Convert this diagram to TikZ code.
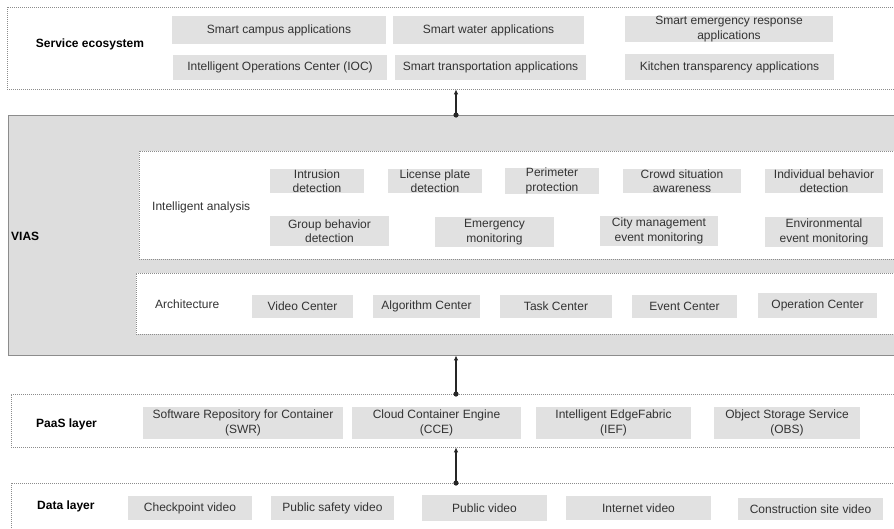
\documentclass[tikz,border=0pt]{standalone}
\usepackage{fontspec}
\setmainfont{Liberation Sans}
\usetikzlibrary{arrows.meta}
\definecolor{boxgray}{HTML}{E1E1E1}
\definecolor{viasgray}{HTML}{DDDDDD}
\definecolor{txt}{HTML}{333333}
\definecolor{edge}{HTML}{8C8C8C}
\tikzset{
  gb/.style={fill=boxgray, draw=none, inner sep=0pt, align=center, text=txt,
    font=\fontsize{12}{14.5}\selectfont},
  layer/.style={draw=edge, line width=0.6pt, dash pattern=on 1pt off 1pt, fill=white, inner sep=0pt},
  lbl/.style={text=txt, inner sep=0pt, font=\fontsize{12}{14.5}\selectfont},
  blbl/.style={text=black, inner sep=0pt, font=\bfseries\fontsize{12}{14.5}\selectfont},
  conn/.style={draw=black!85, line width=1.3pt, -{Latex[length=5pt,width=4.5pt]}},
  dotmark/.style={fill=black!85}
}
\newcommand{\gbox}[6]{% name, x1, y1, x2, y2, text
  \node[gb, minimum width={#4-#2}, minimum height={#5-#3}] (#1) at ({(#2+#4)/2},{(#3+#5)/2}) {#6};}
\begin{document}
\begin{tikzpicture}[x=1pt,y=-1pt]
\clip (0,0) rectangle (894,528);
\fill[white] (0,0) rectangle (894,528);

% ---------- Service ecosystem ----------
\node[layer, minimum width=893, minimum height=82] (svc) at (453.5,48) {};
\node[blbl] (svclbl) at (90,44) {Service ecosystem};
\gbox{campus}{172}{16}{386}{44}{Smart campus applications}
\gbox{ioc}{173}{55}{387}{80}{Intelligent Operations Center (IOC)}
\gbox{water}{393}{16}{584}{44}{Smart water applications}
\gbox{transp}{395}{55}{586}{80}{Smart transportation applications}
\gbox{emerg}{625}{16}{833}{42}{Smart emergency response\\applications}
\gbox{kitchen}{625}{54}{834}{80}{Kitchen transparency applications}

% ---------- VIAS ----------
\node[draw=edge, line width=0.8pt, fill=viasgray, inner sep=0pt, minimum width=893, minimum height=240] (vias) at (454.5,235) {};
\node[blbl, anchor=west] (viaslbl) at (11,236) {VIAS};

\node[layer, minimum width=762, minimum height=108] (ia) at (520,205) {};
\node[lbl, anchor=west] (ialbl) at (152,207) {Intelligent analysis};
\gbox{intr}{270}{169}{364}{193}{Intrusion\\detection}
\gbox{lic}{388}{169}{482}{193}{License plate\\detection}
\gbox{peri}{505}{169}{599}{193}{Perimeter\\protection}
\gbox{crowd}{623}{169}{741}{193}{Crowd situation\\awareness}
\gbox{indiv}{765}{169}{883}{193}{Individual behavior\\detection}
\gbox{group}{270}{216}{389}{246}{Group behavior\\detection}
\gbox{emon}{435}{217}{554}{247}{Emergency\\monitoring}
\gbox{city}{600}{216}{718}{246}{City management\\event monitoring}
\gbox{env}{765}{217}{883}{247}{Environmental\\event monitoring}

\node[layer, minimum width=765, minimum height=61] (arch) at (518.5,303.5) {};
\node[lbl, anchor=west] (archlbl) at (155,304) {Architecture};
\gbox{vc}{252}{295}{353}{318}{Video Center}
\gbox{ac}{373}{295}{480}{318}{Algorithm Center}
\gbox{tc}{500}{295}{612}{318}{Task Center}
\gbox{ec}{632}{295}{737}{318}{Event Center}
\gbox{oc}{758}{293}{877}{318}{Operation Center}

% ---------- PaaS layer ----------
\node[layer, minimum width=889, minimum height=53] (paas) at (455.5,420.5) {};
\node[blbl, anchor=west] (paaslbl) at (36,424) {PaaS layer};
\gbox{swr}{143}{407}{343}{439}{Software Repository for Container\\(SWR)}
\gbox{cce}{352}{407}{521}{439}{Cloud Container Engine\\(CCE)}
\gbox{ief}{536}{407}{691}{439}{Intelligent EdgeFabric\\(IEF)}
\gbox{obs}{714}{407}{860}{439}{Object Storage Service\\(OBS)}

% ---------- Data layer ----------
\node[layer, minimum width=889, minimum height=60] (data) at (455.5,513) {};
\node[blbl, anchor=west] (datalbl) at (37,506) {Data layer};
\gbox{chk}{128}{496}{252}{520}{Checkpoint video}
\gbox{psv}{271}{496}{394}{520}{Public safety video}
\gbox{pub}{422}{495}{547}{521}{Public video}
\gbox{inet}{566}{496}{711}{520}{Internet video}
\gbox{cons}{738}{498}{883}{520}{Construction site video}

% ---------- connectors ----------
\coordinate (d1) at (456,115);
\coordinate (d2) at (456,394);
\coordinate (d3) at (456,483);
\draw[conn] (d1) -- (d1 |- svc.south);
\draw[conn] (d2) -- (d2 |- vias.south);
\draw[conn] (d3) -- (d3 |- paas.south);
\fill[dotmark] (d1) circle (2.6);
\fill[dotmark] (d2) circle (2.6);
\fill[dotmark] (d3) circle (2.6);
\end{tikzpicture}
\end{document}
